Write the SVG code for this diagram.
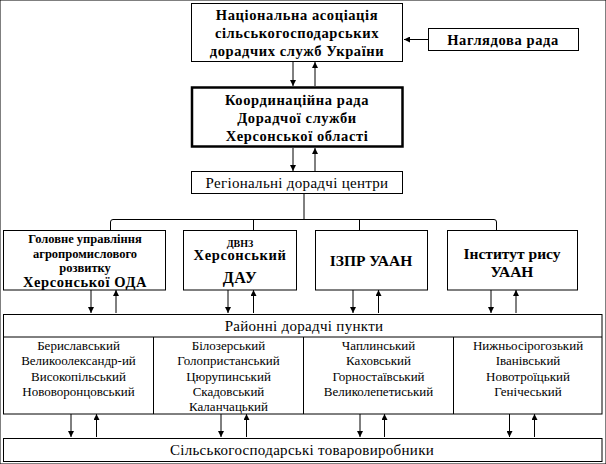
<svg xmlns="http://www.w3.org/2000/svg" width="606" height="464" viewBox="0 0 606 464" font-family="'Liberation Serif', 'DejaVu Serif', serif">
<style>
rect{fill:#fff;stroke:#000;stroke-width:1}
.thick{stroke-width:2.5}
line,polyline,path.c{fill:none;stroke:#000;stroke-width:1}
text{fill:#000;text-anchor:middle}
.b{font-weight:bold;font-size:14.5px;letter-spacing:0.6px}
.s{font-size:12.5px;letter-spacing:0}
.r{font-size:13px}
.h{font-size:15px;letter-spacing:0.3px}
</style>
<defs>
<marker id="ah" viewBox="0 0 10 10" refX="10" refY="5" markerWidth="6" markerHeight="6" markerUnits="userSpaceOnUse" orient="auto">
<path d="M0,0 L10,5 L0,10 z" fill="#000"/>
</marker>
</defs>
<rect width="606" height="464" fill="#fff" stroke="none"/>

<g id="connectors">
<line x1="428" y1="39.5" x2="404" y2="39.5" marker-end="url(#ah)"/>
<line x1="293" y1="62" x2="293" y2="86" marker-end="url(#ah)"/>
<line x1="315" y1="86" x2="315" y2="62" marker-end="url(#ah)"/>
<line x1="293" y1="148" x2="293" y2="171" marker-end="url(#ah)"/>
<line x1="315" y1="171" x2="315" y2="148" marker-end="url(#ah)"/>
<line x1="304" y1="193" x2="304" y2="219.5"/>
<path class="c" d="M110.5,230 V222 Q110.5,219.5 113,219.5 H494 Q496.5,219.5 496.5,222 V230"/>
<line x1="253.5" y1="219.5" x2="253.5" y2="230"/>
<line x1="359.5" y1="219.5" x2="359.5" y2="230"/>
<line x1="91" y1="290" x2="91" y2="313" marker-end="url(#ah)"/>
<line x1="116" y1="313" x2="116" y2="290" marker-end="url(#ah)"/>
<line x1="228" y1="290" x2="228" y2="313" marker-end="url(#ah)"/>
<line x1="253.5" y1="313" x2="253.5" y2="290" marker-end="url(#ah)"/>
<line x1="353" y1="290" x2="353" y2="313" marker-end="url(#ah)"/>
<line x1="378.5" y1="313" x2="378.5" y2="290" marker-end="url(#ah)"/>
<line x1="491" y1="290" x2="491" y2="313" marker-end="url(#ah)"/>
<line x1="516" y1="313" x2="516" y2="290" marker-end="url(#ah)"/>
<line x1="71" y1="414" x2="71" y2="437" marker-end="url(#ah)"/>
<line x1="96.5" y1="437" x2="96.5" y2="414" marker-end="url(#ah)"/>
<line x1="221" y1="414" x2="221" y2="437" marker-end="url(#ah)"/>
<line x1="246.5" y1="437" x2="246.5" y2="414" marker-end="url(#ah)"/>
<line x1="360" y1="414" x2="360" y2="437" marker-end="url(#ah)"/>
<line x1="384.5" y1="437" x2="384.5" y2="414" marker-end="url(#ah)"/>
<line x1="509.5" y1="414" x2="509.5" y2="437" marker-end="url(#ah)"/>
<line x1="534.5" y1="437" x2="534.5" y2="414" marker-end="url(#ah)"/>
</g>

<g id="national">
<rect x="191.5" y="3.5" width="211" height="58"/>
<text class="b" x="297" y="20">Національна асоціація</text>
<text class="b" x="297" y="38">сільськогосподарських</text>
<text class="b" x="297" y="56">дорадчих служб України</text>
</g>

<g id="supervisory">
<rect x="428.5" y="28.5" width="150" height="22"/>
<text class="b" x="503" y="45">Наглядова рада</text>
</g>

<g id="coord">
<rect class="thick" x="192" y="87.5" width="210.5" height="59"/>
<text class="b" x="297" y="105">Координаційна рада</text>
<text class="b" x="297" y="123">Дорадчої служби</text>
<text class="b" x="297" y="141">Херсонської області</text>
</g>

<g id="regional">
<rect x="191.5" y="171.5" width="211" height="22"/>
<text class="h" x="297" y="187.5">Регіональні дорадчі центри</text>
</g>

<g id="gu">
<rect x="3.5" y="230.5" width="162" height="59.5"/>
<text class="b s" x="85" y="243">Головне управління</text>
<text class="b s" x="85" y="257.5">агропромислового</text>
<text class="b s" x="85" y="271.5">розвитку</text>
<text class="b" x="85" y="286.5">Херсонської ОДА</text>
</g>

<g id="dau">
<rect x="183.5" y="230.5" width="113" height="59.5"/>
<text class="b" x="240" y="246.5" style="font-size:10px;letter-spacing:0">ДВНЗ</text>
<text class="b" x="240" y="260">Херсонський</text>
<text class="b" x="240" y="283" style="font-size:16px">ДАУ</text>
</g>

<g id="izpr">
<rect x="315.5" y="230.5" width="112" height="59.5"/>
<text class="b" x="371" y="266" style="font-size:15.5px;letter-spacing:0">ІЗПР УААН</text>
</g>

<g id="rice">
<rect x="447.5" y="230.5" width="130" height="59.5"/>
<text class="b" x="512" y="258.5" style="font-size:15.5px;letter-spacing:0">Інститут рису</text>
<text class="b" x="512" y="277" style="font-size:15.5px;letter-spacing:0">УААН</text>
</g>

<g id="district">
<rect x="3.5" y="314.5" width="598.5" height="99.5"/>
<line x1="3.5" y1="337" x2="602" y2="337"/>
<line x1="153.5" y1="337" x2="153.5" y2="414"/>
<line x1="303.5" y1="337" x2="303.5" y2="414"/>
<line x1="453.5" y1="337" x2="453.5" y2="414"/>
<text class="h" x="304" y="330.5">Районні дорадчі пункти</text>
<text class="r" x="78.5" y="349.5">Бериславський</text>
<text class="r" x="78.5" y="365">Великоолександр-ий</text>
<text class="r" x="78.5" y="380.5">Високопільський</text>
<text class="r" x="78.5" y="396">Нововоронцовський</text>
<text class="r" x="228.5" y="349.5">Білозерський</text>
<text class="r" x="228.5" y="364.5">Голопристанський</text>
<text class="r" x="228.5" y="380.5">Цюрупинський</text>
<text class="r" x="228.5" y="395.5">Скадовський</text>
<text class="r" x="228.5" y="410.5">Каланчацький</text>
<text class="r" x="378.5" y="349.5">Чаплинський</text>
<text class="r" x="378.5" y="365">Каховський</text>
<text class="r" x="378.5" y="380.5">Горностаївський</text>
<text class="r" x="378.5" y="396">Великолепетиський</text>
<text class="r" x="528" y="349.5">Нижньосірогозький</text>
<text class="r" x="528" y="365">Іванівський</text>
<text class="r" x="528" y="380.5">Новотроїцький</text>
<text class="r" x="528" y="396">Генічеський</text>
</g>

<g id="producers">
<rect x="3.5" y="438.5" width="598.5" height="23"/>
<text class="h" x="302" y="455">Сільськогосподарські товаровиробники</text>
</g>
</svg>
